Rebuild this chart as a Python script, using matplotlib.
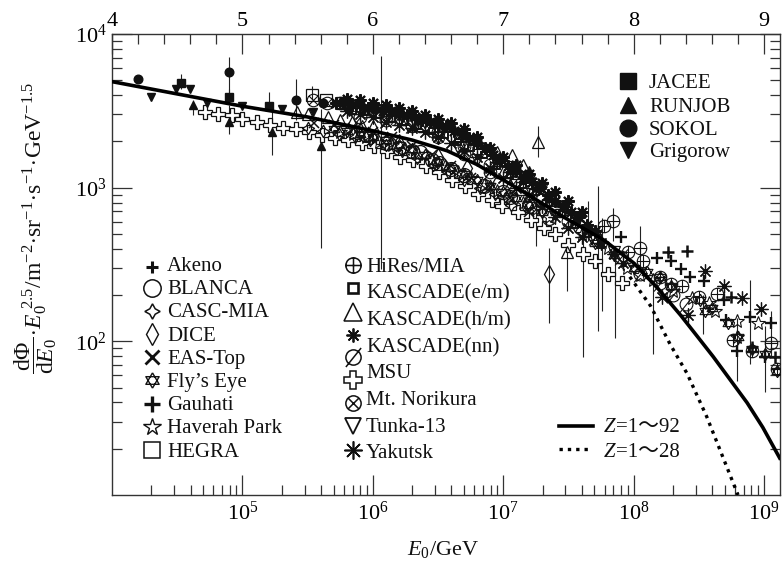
import numpy as np
import matplotlib
matplotlib.use("Agg")
import matplotlib.pyplot as plt
from matplotlib.path import Path
from matplotlib.ticker import FixedLocator, FixedFormatter, MultipleLocator, NullFormatter

plt.rcParams.update({
    'font.family': ['Liberation Serif', 'Noto Sans CJK SC'],
    'mathtext.fontset': 'custom',
    'mathtext.rm': 'Liberation Serif',
    'mathtext.it': 'Liberation Serif:italic',
    'mathtext.bf': 'Liberation Serif:bold',
})

# ---- data, log10(E0/GeV) and log10(flux) ----
CURVE92_E = [4.00, 4.50, 5.00, 5.50, 6.00, 6.30, 6.57, 6.80, 6.98, 7.20, 7.46, 7.77, 8.00, 8.18, 8.36, 8.49, 8.61, 8.74, 8.87, 8.99, 9.12]
CURVE92_F = [3.69, 3.61, 3.53, 3.46, 3.37, 3.31, 3.24, 3.15, 3.06, 2.95, 2.81, 2.66, 2.51, 2.35, 2.17, 2.03, 1.90, 1.75, 1.60, 1.44, 1.24]
CURVE28_E = [7.97, 8.13, 8.28, 8.41, 8.56, 8.72, 8.80]
CURVE28_F = [2.42, 2.23, 1.98, 1.79, 1.51, 1.17, 1.00]

JACEE_E = [4.53, 4.90, 5.20]
JACEE_F = [3.68, 3.59, 3.53]
RUNJOB_E = [4.62, 4.90, 5.23, 5.60]
RUNJOB_F = [3.54, 3.43, 3.36, 3.27]
SOKOL_E = [4.20, 4.90, 5.41, 5.62]
SOKOL_F = [3.71, 3.75, 3.57, 3.55]
GRIGOROW_E = [4.30, 4.49, 4.60, 4.73, 5.00, 5.30, 5.54, 5.82]
GRIGOROW_F = [3.59, 3.64, 3.64, 3.55, 3.53, 3.51, 3.49, 3.49]

AKENO_E = [7.90, 8.18, 8.29, 8.36, 8.43, 8.54, 8.69, 8.71, 8.89, 9.05, 8.79, 9.01]
AKENO_F = [2.68, 2.54, 2.52, 2.47, 2.42, 2.39, 2.27, 2.14, 2.16, 2.12, 1.94, 1.90]
BLANCA_E = [5.95, 6.10, 6.20, 6.30, 6.36, 6.45, 6.51, 6.60, 6.70, 6.85, 7.00, 7.05, 7.20, 7.35]
BLANCA_F = [3.34, 3.29, 3.26, 3.24, 3.23, 3.18, 3.16, 3.12, 3.08, 3.01, 2.97, 2.94, 2.88, 2.80]
CASC_E = [5.50, 5.62, 5.74, 5.86, 5.98, 6.10, 6.22, 6.34, 6.46, 6.58, 6.70, 6.82, 6.94, 7.06]
CASC_F = [3.39, 3.37, 3.35, 3.33, 3.31, 3.28, 3.24, 3.19, 3.15, 3.10, 3.05, 3.00, 2.96, 2.89]
DICE_E = [5.90, 6.20, 6.50, 6.72, 6.90, 7.05, 7.18, 7.35]
DICE_F = [3.37, 3.29, 3.20, 3.13, 3.06, 3.00, 2.90, 2.44]
EAS_E = [5.55, 5.70, 5.85, 6.00, 6.15, 6.30, 6.45, 6.60, 6.75, 6.90, 7.05, 7.20]
EAS_F = [3.42, 3.41, 3.39, 3.36, 3.33, 3.27, 3.21, 3.14, 3.06, 3.00, 2.93, 2.84]
FLY_E = [5.70, 5.80, 5.90, 6.00, 6.10, 6.20, 6.30, 6.40, 6.50, 6.60, 6.70, 6.80, 6.90, 7.00, 7.10, 7.20, 7.30,
         7.70, 7.85, 8.00, 8.10, 8.20, 8.29, 8.51, 8.55, 8.60, 8.72, 8.80, 8.91, 9.01, 9.10]
FLY_F = [3.38, 3.37, 3.35, 3.33, 3.31, 3.28, 3.25, 3.21, 3.17, 3.13, 3.09, 3.05, 3.01, 2.97, 2.93, 2.89, 2.84,
         2.64, 2.56, 2.48, 2.45, 2.42, 2.36, 2.27, 2.20, 2.22, 2.12, 2.03, 1.95, 1.92, 1.81]
GAUHATI_E = [8.26, 8.41, 8.75, 8.91, 9.08]
GAUHATI_F = [2.58, 2.59, 2.29, 1.96, 1.90]
HAVERAH_E = [5.75, 5.85, 5.95, 6.05, 6.15, 6.25, 6.35, 6.45, 6.55, 6.65, 6.75, 6.85, 6.95, 7.05, 7.15, 7.25, 7.35,
             7.60, 7.80, 7.95, 8.05, 8.15, 8.30, 8.45, 8.58, 8.62, 8.79, 8.79, 8.95]
HAVERAH_F = [3.36, 3.35, 3.33, 3.30, 3.28, 3.25, 3.22, 3.18, 3.14, 3.10, 3.06, 3.02, 2.98, 2.94, 2.90, 2.86, 2.81,
             2.70, 2.61, 2.48, 2.43, 2.40, 2.33, 2.28, 2.25, 2.20, 2.13, 2.03, 2.12]
HEGRA_E = [5.53, 5.64, 5.76, 5.89]
HEGRA_F = [3.60, 3.57, 3.55, 3.52]
HIRES_E = [7.77, 7.84, 7.96, 8.05, 8.07, 8.20, 8.29, 8.37, 8.50, 8.64, 8.76, 8.91, 9.05, 9.10]
HIRES_F = [2.75, 2.78, 2.58, 2.61, 2.52, 2.42, 2.37, 2.36, 2.29, 2.31, 2.01, 1.94, 1.99, 1.82]
KASC_EM_E = [5.75, 5.85, 5.95, 6.05, 6.15, 6.25, 6.35, 6.45, 6.55, 6.65, 6.75, 6.85, 6.95, 7.05, 7.15, 7.25, 7.35, 7.45, 7.55, 7.65, 7.75]
KASC_EM_F = [3.53, 3.50, 3.49, 3.47, 3.45, 3.43, 3.40, 3.37, 3.34, 3.30, 3.26, 3.21, 3.14, 3.08, 3.02, 2.97, 2.90, 2.83, 2.76, 2.70, 2.63]
KASC_HM_E = [5.42, 5.50, 5.66, 5.75, 5.84, 5.92, 6.00, 6.21, 6.36, 6.51, 6.67, 6.81, 6.95, 7.07, 7.15, 7.20, 7.27, 7.49]
KASC_HM_F = [3.49, 3.48, 3.46, 3.44, 3.43, 3.40, 3.40, 3.45, 3.41, 3.40, 3.34, 3.29, 3.23, 3.21, 3.15, 3.10, 3.30, 2.58]
KASC_NN_E = [5.72, 5.78, 5.84, 5.90, 5.96, 6.02, 6.08, 6.14, 6.20, 6.26, 6.32, 6.38, 6.44, 6.50, 6.56, 6.62, 6.68, 6.74, 6.80, 6.86, 6.92, 6.98, 7.04, 7.10, 7.16, 7.22, 7.28, 7.34, 7.40, 7.46, 7.52, 7.58, 7.64, 7.70,
             5.80, 5.90, 6.00, 6.10, 6.20, 6.30, 6.40, 6.50, 6.60, 6.70, 6.80, 6.90, 7.00, 7.10, 7.20, 7.30, 7.40, 7.50, 7.60]
KASC_NN_F = [3.55, 3.56, 3.54, 3.54, 3.52, 3.52, 3.50, 3.50, 3.48, 3.47, 3.46, 3.44, 3.43, 3.41, 3.40, 3.37, 3.35, 3.32, 3.29, 3.26, 3.21, 3.18, 3.14, 3.11, 3.07, 3.04, 3.00, 2.95, 2.91, 2.88, 2.84, 2.81, 2.76, 2.72,
             3.58, 3.57, 3.55, 3.54, 3.52, 3.50, 3.47, 3.45, 3.42, 3.38, 3.33, 3.26, 3.20, 3.15, 3.09, 3.03, 2.97, 2.91, 2.84]
SLASH_E = [5.90, 6.10, 6.30, 6.50, 6.70, 6.90, 7.10, 7.30, 7.50, 7.70, 7.90, 8.05, 8.20, 8.30, 8.40]
SLASH_F = [3.46, 3.44, 3.41, 3.36, 3.27, 3.15, 3.05, 2.92, 2.78, 2.68, 2.55, 2.44, 2.38, 2.30, 2.24]
MSU_E = [4.71, 4.81, 4.92, 5.00, 5.11, 5.21, 5.31, 5.41, 5.51, 5.61, 5.71, 5.81, 5.92, 6.01, 6.11, 6.21, 6.31, 6.41, 6.51, 6.61, 6.71, 6.81, 6.91, 6.99, 7.11, 7.21, 7.31, 7.40, 7.50, 7.61, 7.70, 7.80, 7.91]
MSU_F = [3.49, 3.48, 3.47, 3.45, 3.43, 3.41, 3.39, 3.38, 3.36, 3.34, 3.32, 3.31, 3.29, 3.27, 3.24, 3.20, 3.18, 3.14, 3.10, 3.05, 3.01, 2.96, 2.92, 2.88, 2.84, 2.79, 2.74, 2.70, 2.63, 2.57, 2.52, 2.44, 2.38]
NORIKURA_E = [5.54, 5.65, 5.75, 5.81, 5.95, 6.10, 6.30, 6.50, 6.70, 6.90]
NORIKURA_F = [3.57, 3.55, 3.55, 3.54, 3.50, 3.46, 3.40, 3.33, 3.22, 3.10]
TUNKA_E = [6.50, 6.65, 6.80, 6.95, 7.10, 7.22, 7.30, 7.40, 7.55, 7.70, 7.85]
TUNKA_F = [3.32, 3.26, 3.18, 3.10, 3.02, 2.96, 3.00, 2.84, 2.75, 2.66, 2.58]
YAKUTSK_E = [5.80, 5.90, 6.00, 6.10, 6.20, 6.30, 6.40, 6.50, 6.60, 6.70, 6.80, 6.90, 7.00, 7.10, 7.20, 7.30, 7.40, 7.50, 7.60,
             6.95, 7.05, 7.15, 7.25, 7.35, 7.45, 7.55, 7.65, 7.75, 7.85, 7.92, 8.22, 8.42, 8.55, 8.69, 8.83, 8.98]
YAKUTSK_F = [3.50, 3.48, 3.46, 3.43, 3.41, 3.39, 3.36, 3.33, 3.29, 3.24, 3.20, 3.13, 3.06, 3.00, 2.95, 2.88, 2.81, 2.74, 2.68,
             3.17, 3.10, 3.04, 2.99, 2.92, 2.86, 2.79, 2.73, 2.64, 2.57, 2.51, 2.29, 2.17, 2.46, 2.36, 2.28, 2.21]

# error bars: log10 E, lower and upper log10 flux
ERR_E = [4.53, 4.90, 5.20, 4.62, 4.90, 5.23, 5.60, 6.06, 4.90, 5.41, 5.53, 7.27, 7.35, 7.49, 7.61, 7.73, 7.76, 7.86, 7.25, 8.15, 8.05, 7.65, 7.84, 8.53, 8.79, 9.01, 8.89, 9.05]
ERR_LO = [3.64, 3.57, 3.50, 3.47, 3.35, 3.21, 2.61, 2.47, 3.57, 3.44, 3.58, 3.20, 2.12, 2.33, 1.90, 2.07, 2.20, 2.02, 2.62, 1.92, 2.45, 2.65, 2.65, 2.05, 1.74, 1.67, 1.85, 1.90]
ERR_HI = [3.74, 3.64, 3.62, 3.57, 3.54, 3.51, 3.51, 3.86, 3.85, 3.71, 3.66, 3.40, 2.61, 2.64, 2.72, 3.01, 2.80, 2.60, 2.90, 2.40, 2.75, 2.91, 2.87, 2.30, 2.15, 2.10, 2.40, 2.20]

TOP_TICKS = [4, 5, 6, 7, 8, 9]
BOTTOM_TICKS = [1e5, 1e6, 1e7, 1e8, 1e9]
BOTTOM_LABELS = ['$10^{5}$', '$10^{6}$', '$10^{7}$', '$10^{8}$', '$10^{9}$']
LEFT_TICKS = [1e2, 1e3, 1e4]
LEFT_LABELS = ['$10^{2}$', '$10^{3}$', '$10^{4}$']

# ---- marker shapes ----
_M, _L = Path.MOVETO, Path.LINETO
_circle = Path.unit_circle()
_plus = Path([(-1, 0), (1, 0), (0, -1), (0, 1)], [_M, _L, _M, _L])
_cross = Path([(-.71, -.71), (.71, .71), (-.71, .71), (.71, -.71)], [_M, _L, _M, _L])
_slash = Path([(-1.0, -1.25), (1.0, 1.25)], [_M, _L])
OPLUS = Path.make_compound_path(_circle, _plus)
OTIMES = Path.make_compound_path(_circle, _cross)
OSLASH = Path.make_compound_path(_circle, _slash)
DAVID = Path.make_compound_path(
    Path([(0, 1), (-.87, -.5), (.87, -.5), (0, 1)], [_M, _L, _L, _L]),
    Path([(0, -1), (-.87, .5), (.87, .5), (0, -1)], [_M, _L, _L, _L]))

BLACK = '#111111'
SERIES = {
    'Akeno': (AKENO_E, AKENO_F, '+', 8, 1.7),
    'BLANCA': (BLANCA_E, BLANCA_F, 'o', 10, 0.9),
    'CASC': (CASC_E, CASC_F, (4, 1, 0), 9, 0.9),
    'DICE': (DICE_E, DICE_F, 'd', 9, 0.9),
    'EAS': (EAS_E, EAS_F, 'x', 7, 1.1),
    'Fly': (FLY_E, FLY_F, DAVID, 9, 0.8),
    'Gauhati': (GAUHATI_E, GAUHATI_F, '+', 9, 1.8),
    'Haverah': (HAVERAH_E, HAVERAH_F, '*', 10, 0.8),
    'HEGRA': (HEGRA_E, HEGRA_F, 's', 9, 0.9),
    'HiRes': (HIRES_E, HIRES_F, OPLUS, 9, 0.8),
    'EM': (KASC_EM_E, KASC_EM_F, 's', 5, 1.4),
    'HM': (KASC_HM_E, KASC_HM_F, '^', 9, 0.9),
    'NN': (KASC_NN_E, KASC_NN_F, (8, 2, 0), 9, 1.5),
    'Slash': (SLASH_E, SLASH_F, OSLASH, 11.5, 0.8),
    'Norikura': (NORIKURA_E, NORIKURA_F, OTIMES, 9, 0.8),
    'Tunka': (TUNKA_E, TUNKA_F, 'v', 8, 0.9),
    'Yakutsk': (YAKUTSK_E, YAKUTSK_F, (8, 2, 0), 10, 0.9),
}

W, H = 784, 564
fig = plt.figure(figsize=(W / 100, H / 100), dpi=100)
ax = fig.add_axes([112 / W, 1 - 495 / H, 668 / W, 461 / H])
AXC = '#333333'


def pw(v):
    return 10.0 ** np.asarray(v, dtype=float)


ax.set_xscale('log')
ax.set_yscale('log')
ax.set_xlim(1e4, 10 ** 9.122)
ax.set_ylim(10, 1e4)

ax.vlines(pw(ERR_E), pw(ERR_LO), pw(ERR_HI), color='#222222', lw=0.8, zorder=2)

# MSU sits under the rest with white centres
ax.plot(pw(MSU_E), pw(MSU_F), ls='none', marker='P', ms=10, mfc='white',
        mec=BLACK, mew=0.9, zorder=3)
for name, (e, f, mk, ms, mew) in SERIES.items():
    ax.plot(pw(e), pw(f), ls='none', marker=mk, ms=ms, mfc='none', mec=BLACK,
            mew=mew, zorder=4)
for e, f, mk, ms in [(JACEE_E, JACEE_F, 's', 6), (RUNJOB_E, RUNJOB_F, '^', 6),
                     (SOKOL_E, SOKOL_F, 'o', 6.2), (GRIGOROW_E, GRIGOROW_F, 'v', 6)]:
    ax.plot(pw(e), pw(f), ls='none', marker=mk, ms=ms, mfc=BLACK, mec=BLACK, zorder=5)

ax.plot(pw(CURVE92_E), pw(CURVE92_F), color='black', lw=2.6, zorder=6)
ax.plot(pw(CURVE28_E), pw(CURVE28_F), color='black', lw=2.4, ls=(0, (1, 1.5)), zorder=6)

for side in ax.spines.values():
    side.set_color(AXC)
    side.set_linewidth(1.0)

ax.xaxis.set_major_locator(FixedLocator(BOTTOM_TICKS))
ax.xaxis.set_major_formatter(FixedFormatter(BOTTOM_LABELS))
x_minor = [m * 10.0 ** d for d in range(4, 10) for m in range(2, 10) if m * 10.0 ** d < 10 ** 9.12]
ax.xaxis.set_minor_locator(FixedLocator(x_minor))
ax.xaxis.set_minor_formatter(NullFormatter())
ax.yaxis.set_major_locator(FixedLocator(LEFT_TICKS))
ax.yaxis.set_major_formatter(FixedFormatter(LEFT_LABELS))
y_minor = [m * 10.0 ** d for d in range(1, 4) for m in range(2, 10)]
ax.yaxis.set_minor_locator(FixedLocator(y_minor))
ax.yaxis.set_minor_formatter(NullFormatter())
ax.tick_params(axis='x', which='major', direction='in', top=False, length=14.4, width=0.9,
               color=AXC, labelsize=16, pad=5)
ax.tick_params(axis='x', which='minor', direction='in', top=False, length=7.2, width=0.9, color=AXC)
ax.tick_params(axis='y', which='major', direction='in', right=True, length=14.4, width=0.9,
               color=AXC, labelsize=16, pad=4)
ax.tick_params(axis='y', which='minor', direction='in', right=True, length=7.2, width=0.9, color=AXC)

top = ax.twiny()
top.set_xlim(4, 9.122)
top.set_xticks(TOP_TICKS)
top.xaxis.set_minor_locator(MultipleLocator(0.2))
top.tick_params(axis='x', which='major', direction='in', length=14.4, width=0.9, color=AXC,
                labelsize=16, pad=2)
top.tick_params(axis='x', which='minor', direction='in', length=7.2, width=0.9, color=AXC)
for side in top.spines.values():
    side.set_visible(False)


# ---- annotations placed in picture pixels ----
def fx(px):
    return px / W


def fy(py):
    return 1 - py / H


def key(px, py, mk, ms, mew=1.0, filled=False):
    fig.add_artist(plt.Line2D([fx(px)], [fy(py)], transform=fig.transFigure, ls='none', marker=mk,
                              ms=ms, mew=mew, mec=BLACK, mfc=BLACK if filled else 'none'))


def label(px, py, s, **kw):
    fig.text(fx(px), fy(py), s, fontsize=15, va='baseline', ha='left', color='#111111', **kw)


LEFT_NAMES = ['Akeno', 'BLANCA', 'CASC-MIA', 'DICE', 'EAS-Top', 'Fly\u2019s Eye', 'Gauhati',
              'Haverah Park', 'HEGRA']
LEFT_TEXT_ROWS = [271, 294, 317, 341, 364, 387, 410, 433, 457]
LEFT_KEY_ROWS = [267, 288, 311, 334, 357, 380, 404, 427, 450]
LEFT_KEYS = [('+', 9, 2.2), ('o', 12.5, 1.1), ((4, 1, 0), 11, 1.1), ('d', 11, 1.0), ('x', 10, 2.0),
             (DAVID, 11, 1.0), ('+', 11, 2.4), ('*', 13, 1.0), ('s', 12, 1.1)]
for name, ty, ky, (mk, ms, mew) in zip(LEFT_NAMES, LEFT_TEXT_ROWS, LEFT_KEY_ROWS, LEFT_KEYS):
    key(152, ky, mk, ms, mew)
    label(167, ty, name)

RIGHT_NAMES = ['HiRes/MIA', 'KASCADE(e/m)', 'KASCADE(h/m)', 'KASCADE(nn)', 'MSU', 'Mt. Norikura',
               'Tunka-13', 'Yakutsk']
RIGHT_TEXT_ROWS = [272, 298, 325, 352, 378, 405, 432, 458]
for name, y in zip(RIGHT_NAMES, RIGHT_TEXT_ROWS):
    label(366, y, name)
RIGHT_KEY_ROWS = [265, 288, 312, 335, 357, 380, 403, 426, 450]
RIGHT_KEYS = [(OPLUS, 11, 1.1), ('s', 6.5, 1.9), ('^', 13, 1.1), ((8, 2, 0), 10, 1.3), (OSLASH, 13.7, 1.1),
              ('P', 13, 1.1), (OTIMES, 11, 1.1), ('v', 11, 1.3), ((8, 2, 0), 13, 1.2)]
for y, (mk, ms, mew) in zip(RIGHT_KEY_ROWS, RIGHT_KEYS):
    key(353, y, mk, ms, mew)

for ky, ty, name, mk, ms in [(81, 88, 'JACEE', 's', 11.5), (105, 112, 'RUNJOB', '^', 12),
                             (128, 135, 'SOKOL', 'o', 12), (150, 157, 'Grigorow', 'v', 12)]:
    key(628, ky, mk, ms, 1.0, True)
    label(649, ty, name)

fig.add_artist(plt.Line2D([fx(559), fx(593)], [fy(426), fy(426)], transform=fig.transFigure,
                          color='black', lw=2.6))
fig.add_artist(plt.Line2D([fx(559), fx(590)], [fy(449), fy(449)], transform=fig.transFigure,
                          color='black', lw=2.4, ls=(0, (1, 1.5))))
for y, rest in [(432, '=1\uff5e92'), (457, '=1\uff5e28')]:
    label(604, y, 'Z', style='italic')
    label(616, y, rest)

fig.text(fx(443), fy(549), r'$\mathit{E}_{0}$/GeV', fontsize=16, ha='center', va='center', color='#111111')
fig.text(fx(36), fy(228),
         r'$\dfrac{\mathrm{d}\mathit{\Phi}}{\mathrm{d}\mathit{E}_{0}}\!\cdot\!\mathit{E}_{0}^{\ 2.5}'
         r'/\mathrm{m}^{-2}\!\cdot\!\mathrm{sr}^{-1}\!\cdot\!\mathrm{s}^{-1}\!\cdot\!\mathrm{GeV}^{-1.5}$',
         fontsize=17, rotation=90, ha='center', va='center', color='#111111')

fig.savefig('out.png', dpi=100)
